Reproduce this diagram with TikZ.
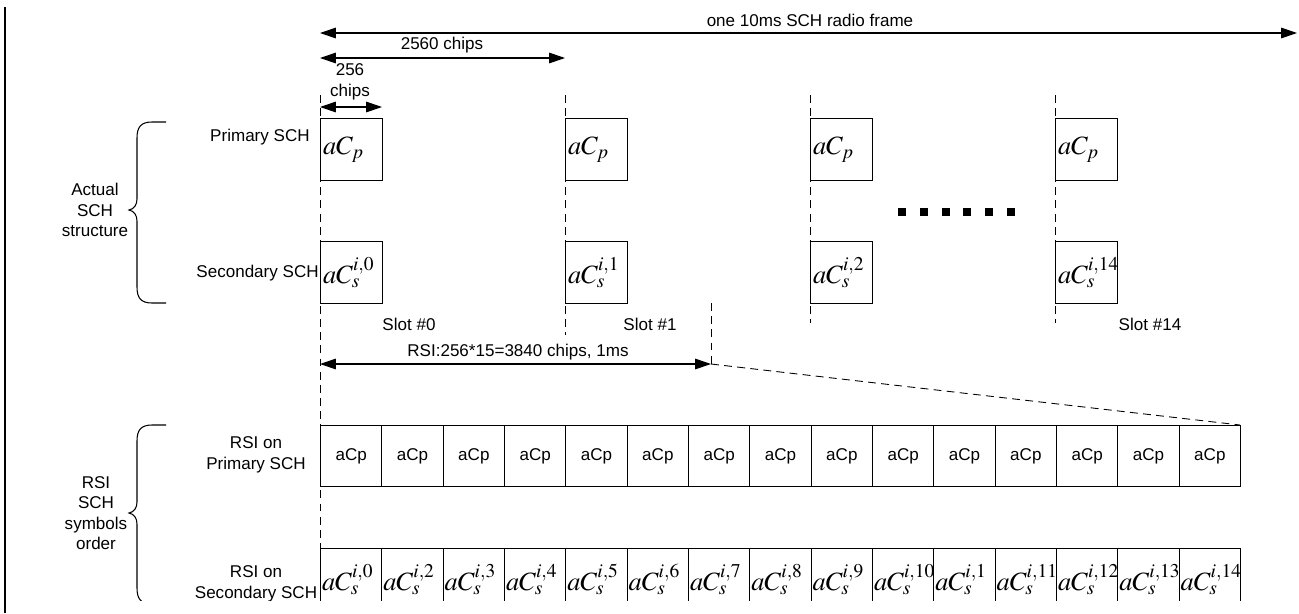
\documentclass[tikz,border=0pt]{standalone}
\usepackage{mathptmx}
\usepackage[no-math]{fontspec}
\setmainfont{Liberation Sans}
\usetikzlibrary{positioning,arrows.meta}

\begin{document}
\begin{tikzpicture}[x=0.02cm,y=-0.02cm,>={Triangle[length=9pt,width=6pt]}]
		\tikzset{
			lbl/.style={font=\fontsize{9.7}{11.7}\selectfont,inner sep=0pt,align=center},
			thinline/.style={line width=0.6pt},
			slotline/.style={line width=0.5pt,dash pattern=on 4.5pt off 3pt},
			dim/.style={<->,line width=0.6pt},
			symbox/.style={draw,fill=white,line width=0.6pt,anchor=north west,inner xsep=0.05cm,inner ysep=0pt,
					text width=1.14cm,align=left,minimum height=1.24cm,font=\fontsize{15}{18}\selectfont},
			rsicell/.style={draw,fill=white,line width=0.6pt,anchor=north west,inner sep=0pt,
					minimum width=1.2267cm,minimum height=1.22cm,font=\fontsize{9.7}{11.7}\selectfont},
			rsimath/.style={draw,fill=white,line width=0.6pt,anchor=north west,inner xsep=0.03cm,inner ysep=0pt,
					text width=1.1667cm,align=left,minimum height=1.24cm,font=\fontsize{15}{18}\selectfont},
		}
		\useasboundingbox (0,0) rectangle (1299,613);
		\draw[line width=1.6pt] (5,7) -- (5,613);

		\begin{scope}
			\clip (0,0) rectangle (1299,600);

			% slot borders
			\foreach \s/\x/\e in {0/320/548,1/565/335,2/810/323,14/1055/323}{
					\coordinate (t\s) at (\x,95);
					\coordinate (e\s) at (\x,\e);
					\draw[slotline] (t\s) -- (e\s);
				}

			% frame and chip lengths
			\coordinate (f0) at (320,33);
			\coordinate (f1) at (1297,33);
			\draw[dim] (f0) -- (f1);
			\node[lbl] (frame) at (810,20) {one 10ms SCH radio frame};

			\coordinate (c0) at (320,58);
			\coordinate (c1) at (565,58);
			\draw[dim] (c0) -- (c1);
			\node[lbl] (slotlen) at (442,45) {2560 chips};

			\coordinate (b0) at (320,107);
			\coordinate (b1) at (382,107);
			\draw[dim] (b0) -- (b1);
			\node[lbl] (symlen) at (350,82) {256\\chips};

			% actual SCH structure
			\foreach \s/\x in {0/320,1/565,2/810,14/1055}{
					\node[symbox] (p\s) at (\x,118) {$aC_p$};
					\node[symbox] (s\s) at (\x,241) {$aC_s^{i,\s}$};
				}
			\foreach \i in {0,...,5}
			\fill (898+\i*21.8,207.5) rectangle ++(8,8.5);

			\node[lbl] (sl0) at (409,324) {Slot \#0};
			\node[lbl] (sl1) at (650,324) {Slot \#1};
			\node[lbl] (sl14) at (1150,324) {Slot \#14};

			\node[lbl,anchor=east] (prim) at (310,137) {Primary SCH};
			\node[lbl,anchor=east] (sec) at (319,273) {Secondary SCH};
			\node[lbl] (act) at (95,210) {Actual\\SCH\\structure};

			% braces
			\foreach \t/\m/\b in {122/210/303,425/513/604}{
					\draw[thinline] (166,\t) -- (152,\t) .. controls (141,\t) and (137,\t+5) .. (137,\t+16)
					-- (137,\m-11) .. controls (137,\m-5) and (134,\m-1) .. (129,\m)
					.. controls (134,\m+1) and (137,\m+5) .. (137,\m+11)
					-- (137,\b-16) .. controls (137,\b-5) and (141,\b) .. (152,\b) -- (166,\b);
				}

			% RSI
			\coordinate (r0) at (320,364);
			\coordinate (r1) at (711,364);
			\coordinate (rtop) at (711,303);
			\coordinate (rend) at (1240,425);
			\draw[slotline] (rtop) -- (r1);
			\draw[slotline] (r1) -- (rend);
			\draw[dim] (r0) -- (r1);
			\node[lbl] (rsi) at (518,352) {RSI:256*15=3840 chips, 1ms};

			\node[lbl] (rprim) at (256,455) {RSI on\\Primary SCH};
			\node[lbl] (rsec) at (256,584) {RSI on\\Secondary SCH};
			\node[lbl] (rord) at (96,513) {RSI\\SCH\\symbols\\order};

			\foreach \k [count=\i from 0] in {0,2,3,4,5,6,7,8,9,10,1,11,12,13,14}{
					\node[rsicell] (rp\i) at (320+\i*61.333,425) {aCp};
					\node[rsimath] (rs\i) at (320+\i*61.333,548) {$aC_s^{i,\k}$};
				}
		\end{scope}
	\end{tikzpicture}
\end{document}
